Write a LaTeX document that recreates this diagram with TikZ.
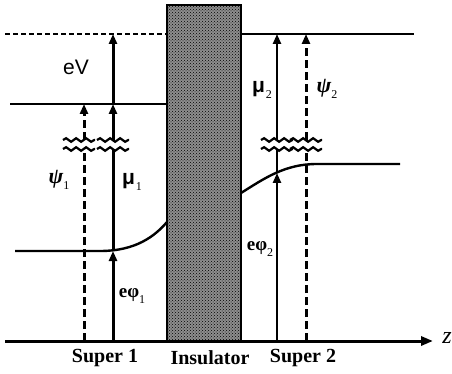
\documentclass[tikz,border=0pt]{standalone}
\usepackage{fontspec}
\setmainfont{Liberation Serif}
\newfontfamily\sanslbl{Liberation Sans}
\usepackage{tikz}
\usetikzlibrary{arrows.meta,decorations.pathmorphing,patterns}
\definecolor{BarrierFill}{HTML}{8E8E8E}
\newcommand{\lowidx}[1]{\raisebox{-0.28em}{\fontsize{12}{12}\selectfont\mdseries\upshape #1}}

\tikzset{
  axisline/.style={line width=3pt,-{Triangle[length=12pt,width=9pt]}},
  arr/.style={line width=3pt,-{Triangle[length=10pt,width=8pt]}},
  thinarr/.style={line width=2.4pt,-{Triangle[length=10pt,width=8pt]}},
  darr/.style={line width=3pt,dash pattern=on 8pt off 4pt},
  level/.style={line width=2pt},
  thinlevel/.style={line width=1.4pt},
  toplevel/.style={line width=1.3pt,dash pattern=on 5pt off 3pt},
  band/.style={line width=2.4pt},
  brk/.style={line width=2.2pt,decorate,
    decoration={snake,segment length=10pt,amplitude=1.8pt}},
  lbl/.style={inner sep=0pt},
  region/.style={inner sep=0pt,font=\fontsize{20}{20}\selectfont\bfseries}
}

\begin{document}
\begin{tikzpicture}[x=1pt,y=-1pt]
  \useasboundingbox (0,0) rectangle (452,374);

  % insulator barrier
  \coordinate (ins-tl) at (167,5);
  \coordinate (ins-br) at (241,341);
  \fill[BarrierFill] (ins-tl) rectangle (ins-br);
  \fill[pattern=crosshatch dots,pattern color=black] (ins-tl) rectangle (ins-br);
  \draw[line width=1.6pt] (ins-tl) rectangle (ins-br);

  % energy levels
  \draw[toplevel] (5,34) -- (167,34);
  \draw[level] (10,104) -- (167,104);
  \draw[thinlevel] (241,34) -- (414,34);
  \draw[band] (15,251) -- (100,251) .. controls (136,251) and (155,236) .. (167,222);
  \draw[band] (241,193) .. controls (265,178) and (285,164) .. (317,164) -- (400,164);

  % z axis
  \coordinate (ax-start) at (5,341);
  \coordinate (ax-end) at (433,341);
  \draw[axisline] (ax-start) -- (ax-end);
  \node[lbl,font=\fontsize{24}{24}\selectfont\itshape] (zlbl) at (447,338) {z};

  % Super 1
  \coordinate (psi1-bot) at (84,341);
  \coordinate (psi1-brk) at (84,149);
  \coordinate (psi1-brk2) at (84,140);
  \coordinate (psi1-top) at (84,104);
  \draw[darr] (psi1-bot) -- (psi1-brk);
  \draw[darr,-{Triangle[length=10pt,width=8pt]}] (psi1-brk2) -- (psi1-top);

  \coordinate (mu1-bot) at (113,341);
  \coordinate (mu1-band) at (113,251);
  \coordinate (mu1-brk) at (113,149);
  \coordinate (mu1-brk2) at (113,140);
  \coordinate (mu1-top) at (113,104);
  \coordinate (ev-top) at (113,34);
  \draw[arr] (mu1-bot) -- (mu1-band);
  \draw[line width=3pt] (mu1-band) -- (mu1-brk);
  \draw[arr] (mu1-brk2) -- (mu1-top);
  \draw[arr] (mu1-top) -- (ev-top);

  % Super 2
  \coordinate (mu2-bot) at (277,341);
  \coordinate (mu2-band) at (277,173);
  \coordinate (mu2-brk) at (277,149);
  \coordinate (mu2-brk2) at (277,140);
  \coordinate (mu2-top) at (277,34);
  \draw[thinarr] (mu2-bot) -- (mu2-band);
  \draw[line width=2.4pt] (mu2-band) -- (mu2-brk);
  \draw[thinarr] (mu2-brk2) -- (mu2-top);

  \coordinate (psi2-bot) at (306,341);
  \coordinate (psi2-brk) at (306,149);
  \coordinate (psi2-brk2) at (306,140);
  \coordinate (psi2-top) at (306,34);
  \draw[darr] (psi2-bot) -- (psi2-brk);
  \draw[darr,-{Triangle[length=10pt,width=8pt]}] (psi2-brk2) -- (psi2-top);

  % scale breaks
  \foreach \xb in {79,113,277,306}{
    \draw[brk] (\xb-16,140) -- (\xb+16,140);
    \draw[brk] (\xb-16,149) -- (\xb+16,149);
  }

  % labels
  \node[lbl,font=\sanslbl\fontsize{21}{21}\selectfont] (evlbl) at (76,67) {eV};
  \node[lbl,font=\fontsize{22}{22}\selectfont\bfseries\itshape] (psi1lbl) at (59,180) {ψ\lowidx{1}};
  \node[lbl,font=\fontsize{21}{21}\selectfont] (mu1lbl) at (132,182) {{\sanslbl\bfseries μ}\kern1pt\lowidx{1}};
  \node[lbl,font=\fontsize{19}{19}\selectfont\bfseries] (phi1lbl) at (132,296) {eφ\lowidx{1}};
  \node[lbl,font=\fontsize{21}{21}\selectfont] (mu2lbl) at (262,90) {{\sanslbl\bfseries μ}\kern1pt\lowidx{2}};
  \node[lbl,font=\fontsize{22}{22}\selectfont\bfseries\itshape] (psi2lbl) at (327,89) {ψ\lowidx{2}};
  \node[lbl,font=\fontsize{19}{19}\selectfont\bfseries] (phi2lbl) at (260,249) {eφ\lowidx{2}};

  \node[region] (sup1) at (105,358) {Super 1};
  \node[region] (insl) at (210,358) {Insulator};
  \node[region] (sup2) at (303,358) {Super 2};
\end{tikzpicture}
\end{document}
